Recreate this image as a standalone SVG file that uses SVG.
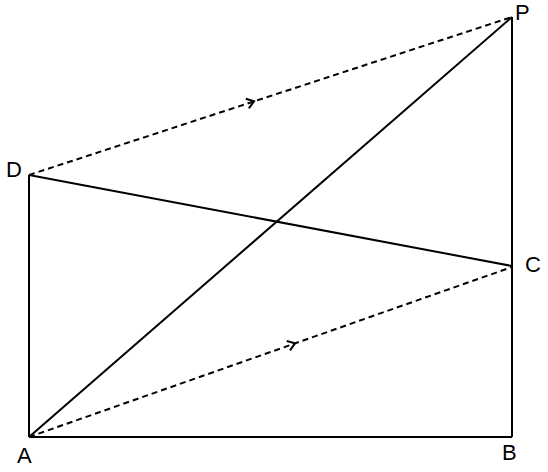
<svg xmlns="http://www.w3.org/2000/svg" width="548" height="472" viewBox="0 0 548 472">
<style>
.ln{stroke:#000;stroke-width:2;fill:none;stroke-linecap:butt}
.dash{stroke:#000;stroke-width:2;fill:none;stroke-dasharray:6,4}
.lbl{font-family:"Liberation Sans",Arial,sans-serif;font-size:22px;fill:#000}
</style>
<defs>
<marker id="chev" markerUnits="userSpaceOnUse" markerWidth="20" markerHeight="20" viewBox="-10 -10 20 20" refX="0" refY="0" orient="auto">
<path d="M-7,-5 L0,0 L-7,5" stroke="#000" stroke-width="2" fill="none"/>
</marker>
</defs>
<rect width="548" height="472" fill="#fff"/>
<g id="connectors">
<line class="ln" x1="29" y1="437" x2="512" y2="437"/>
<line class="ln" x1="512" y1="437" x2="512" y2="17"/>
<line class="ln" x1="29" y1="437" x2="29" y2="175"/>
<line class="ln" x1="29" y1="175" x2="512" y2="266"/>
<line class="ln" x1="29" y1="437" x2="512" y2="17"/>
<path class="dash" d="M29,175 L254,101.4 L512,17" marker-mid="url(#chev)"/>
<path class="dash" d="M29,437 L295,343.4 L512,267" marker-mid="url(#chev)"/>
</g>
<g id="node-A"><text class="lbl" x="17" y="463">A</text></g>
<g id="node-B"><text class="lbl" x="502" y="460">B</text></g>
<g id="node-C"><text class="lbl" x="525" y="272">C</text></g>
<g id="node-D"><text class="lbl" x="6" y="177">D</text></g>
<g id="node-P"><text class="lbl" x="515" y="20">P</text></g>
</svg>
